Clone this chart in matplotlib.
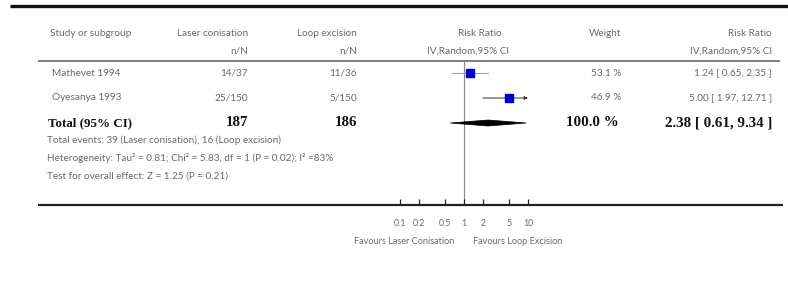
import matplotlib
matplotlib.use("Agg")
import matplotlib.pyplot as plt
import numpy as np
from matplotlib.patches import Polygon

# ── data ──────────────────────────────────────────────
studies = ["Mathevet 1994", "Oyesanya 1993"]
laser_nN = ["14/37", "25/150"]
loop_nN = ["11/36", "5/150"]
rr = [1.24, 5.00]
ci_lo = [0.65, 1.97]
ci_hi = [2.35, 12.71]
weights = [53.1, 46.9]
total_laser = 187
total_loop = 186
pooled = (2.38, 0.61, 9.34)
ticks = [0.1, 0.2, 0.5, 1, 2, 5, 10]
tick_labels = ["0.1", "0.2", "0.5", "1", "2", "5", "10"]
footer = [
    "Total events: 39 (Laser conisation), 16 (Loop excision)",
    "Heterogeneity: Tau² = 0.81; Chi² = 5.83, df = 1 (P = 0.02); I² =83%",
    "Test for overall effect: Z = 1.25 (P = 0.21)",
]

# ── style ─────────────────────────────────────────────
C_TXT = "#6a6a6a"
C_BOLD = "#111111"
C_SQ = "#0000cc"
SANS = "Lato"
SERIF = "Liberation Serif"
FS = 7.2

W, H = 788, 282
fig = plt.figure(figsize=(W / 100, H / 100), dpi=100)
fig.patch.set_facecolor("white")

# overlay axes in pixel coordinates for the table text
ax = fig.add_axes([0, 0, 1, 1])
ax.set_xlim(0, W)
ax.set_ylim(H, 0)
ax.axis("off")

def t(x, y, s, ha="left", size=FS, color=C_TXT):
    ax.text(x, y, s, ha=ha, va="center", fontsize=size,
            fontfamily=SANS, color=color)

def tb(x, y, s, ha="left", size=10.8):
    ax.text(x, y, s, ha=ha, va="center", fontsize=size,
            fontfamily=SERIF, fontweight="bold", color=C_BOLD)

# rules
ax.plot([10, 788], [6, 6], color="#111111", lw=2.4, solid_capstyle="butt")
ax.plot([38, 780], [61, 61], color="#666666", lw=1.2, solid_capstyle="butt")
ax.plot([38, 783], [205, 205], color="#222222", lw=1.6, solid_capstyle="butt")

# headers
t(50, 33, "Study or subgroup")
t(248, 33, "Laser conisation", ha="right")
t(248, 51, "n/N", ha="right")
t(357, 33, "Loop excision", ha="right")
t(357, 51, "n/N", ha="right")
t(480, 33, "Risk Ratio", ha="center")
t(468, 51, "IV,Random,95% CI", ha="center")
t(621, 33, "Weight", ha="right")
t(772, 33, "Risk Ratio", ha="right")
t(772, 51, "IV,Random,95% CI", ha="right")

# study rows
row_y0, row_dy = 73, 25
for i, name in enumerate(studies):
    y = row_y0 + i * row_dy
    t(52, y, name)
    t(248, y, laser_nN[i], ha="right")
    t(357, y, loop_nN[i], ha="right")
    t(621, y, f"{weights[i]:.1f} %", ha="right")
    t(772, y, f"{rr[i]:.2f} [ {ci_lo[i]:.2f}, {ci_hi[i]:.2f} ]", ha="right")

yt = row_y0 + len(studies) * row_dy
tb(48, yt, "Total (95% CI)", size=9.4)
tb(248, yt, str(total_laser), ha="right")
tb(357, yt, str(total_loop), ha="right")
tb(619, yt, f"{sum(weights):.1f} %", ha="right")
tb(772, yt, f"{pooled[0]:.2f} [ {pooled[1]:.2f}, {pooled[2]:.2f} ]", ha="right")

for k, line in enumerate(footer):
    t(47, 140 + k * 17.8, line, size=7.2)

t(454, 242, "Favours Laser Conisation", ha="right", size=6.6)
t(473, 242, "Favours Loop Excision", ha="left", size=6.6)

# ── forest axes ───────────────────────────────────────
x0, x1 = 400, 528
ytop, ybot = 61, 205
fax = fig.add_axes([x0 / W, (H - ybot) / H, (x1 - x0) / W, (ybot - ytop) / H])
fax.set_xscale("log")
fax.set_xlim(0.1, 10)
r_top = (ytop - row_y0) / row_dy
r_bot = (ybot - row_y0) / row_dy
fax.set_ylim(r_bot, r_top)
fax.patch.set_alpha(0)
for s in fax.spines.values():
    s.set_visible(False)
fax.set_yticks([])
fax.minorticks_off()
fax.set_xticks(ticks)
fax.set_xticklabels(tick_labels, fontsize=6.3, fontfamily=SANS, color=C_TXT)
fax.tick_params(axis="x", direction="in", length=4, width=0.9, color="#222222", pad=10)

fax.axvline(1, color="#888888", lw=0.8, zorder=1)

for i in range(len(studies)):
    hi = min(ci_hi[i], 10)
    if ci_hi[i] > 10:
        fax.annotate("", xy=(hi, i), xytext=(ci_lo[i], i),
                     arrowprops=dict(arrowstyle="-|>", color="#333333", lw=0.7,
                                     mutation_scale=5, shrinkA=0, shrinkB=0),
                     annotation_clip=False)
    else:
        fax.plot([ci_lo[i], hi], [i, i], color="#999999", lw=0.7, clip_on=False)
    fax.plot(rr[i], i, marker="s", ms=6.2 * np.sqrt(weights[i] / weights[0]),
             color=C_SQ, mec=C_SQ, clip_on=False, zorder=3)

ri = len(studies)
h = 0.12
fax.add_patch(Polygon([(pooled[1], ri), (pooled[0], ri - h), (pooled[2], ri), (pooled[0], ri + h)],
                      closed=True, facecolor="black", edgecolor="black", lw=0.5, clip_on=False))

fig.savefig("out.png", dpi=100, facecolor="white")
